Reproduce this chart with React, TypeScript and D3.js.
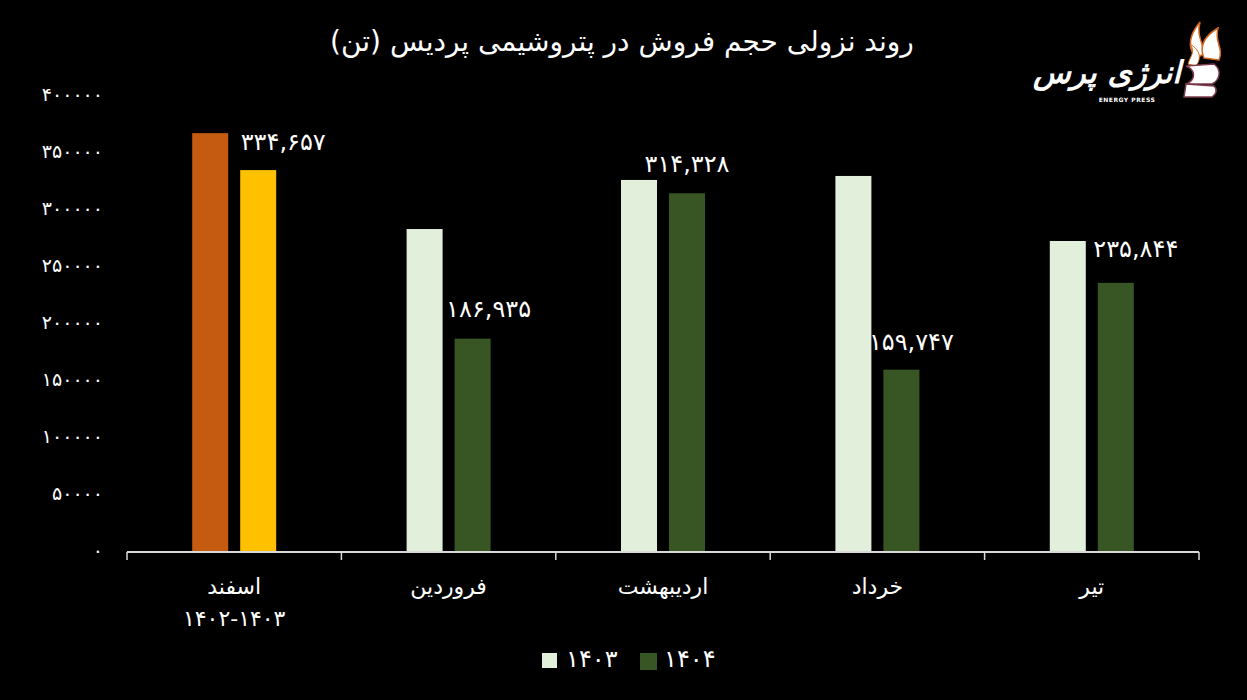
import React from 'react';
import * as d3 from 'd3';

// ---- Data ----
const categories = ['اسفند', 'فروردین', 'اردیبهشت', 'خرداد', 'تیر'];
const categorySubLabels = ['۱۴۰۲-۱۴۰۳', '', '', '', ''];
const seriesNames = ['۱۴۰۳', '۱۴۰۴'];
// first bar of each pair (Esfand shows 1402, the others 1403)
const valuesPrev = [367000, 283000, 326000, 329500, 272500];
// second bar of each pair (Esfand shows 1403, the others 1404)
const valuesCurr = [334657, 186935, 314328, 159747, 235844];
const yTicks = [0, 50000, 100000, 150000, 200000, 250000, 300000, 350000, 400000];
const titleText = 'روند نزولی حجم فروش در پتروشیمی پردیس (تن)';

// label nudges (dx, dy from the bar top centre)
const labelNudgeX = [25, 16, 0, 10, 20];
const labelNudgeY = [-28, -30, -29, -28, -34];

const W = 1247;
const H = 700;
const FONT = "'DejaVu Sans', sans-serif";
const LIGHT = '#E2EFDA';
const DARK = '#375623';
const ORANGE = '#C55A11';
const YELLOW = '#FFC000';
const AXIS = '#D9D9D9';

const fa = (s: string) => s.replace(/\d/g, (d) => '۰۱۲۳۴۵۶۷۸۹'[+d]);

export default function App() {
  const x = d3.scaleBand<string>().domain(categories).range([127, 1199]).padding(0);
  const inner = d3.scaleBand<number>().domain([0, 1]).range([-42, 42]).paddingInner(0.25).paddingOuter(0);
  const y = d3.scaleLinear().domain([0, 400000]).range([552, 95.5]);
  const fmt = d3.format(',');
  const tickXs = [...categories.map((c) => x(c) as number), 1199];

  return (
    <svg width={W} height={H} style={{ position: 'absolute', left: 0, top: 0, background: '#000' }} fontFamily={FONT}>
      <rect x={0} y={0} width={W} height={H} fill="#000" />
      {/* Title */}
      <text x={622} y={41} fill="#fff" fontSize={28} textAnchor="middle" dominantBaseline="central" direction="rtl">
        {titleText}
      </text>

      {/* Logo */}
      <g>
        <text x={1107} y={72} fill="#fff" fontSize={31} fontWeight="bold" textAnchor="middle" dominantBaseline="central" fontStyle="italic">
          انرژی پرس
        </text>
        <text x={1127} y={99} fill="#fff" fontSize={6} fontWeight="bold" textAnchor="middle" dominantBaseline="central" letterSpacing={0.5}>
          ENERGY PRESS
        </text>
        <path d="M1196 58 C1186 46 1190 34 1200 22 C1196 36 1204 44 1204 54 Z" fill="#fff" stroke="#D4671E" strokeWidth={1.5} />
        <path d="M1204 58 C1198 44 1208 34 1218 28 C1214 42 1224 48 1219 60 Z" fill="#fff" stroke="#D4671E" strokeWidth={1.5} />
        <path d="M1188 64 C1190 56 1196 52 1190 44 C1200 50 1202 58 1196 66 Z" fill="#fff" stroke="#D4671E" strokeWidth={1} />
        <path d="M1186 66 L1214 64 C1222 70 1220 80 1212 84 L1186 84 C1196 80 1196 70 1186 66 Z" fill="#fff" stroke="#7a3a4a" strokeWidth={1.5} />
        <path d="M1186 84 L1214 86 C1218 90 1216 94 1212 97 L1184 97 Z" fill="#fff" stroke="#7a3a4a" strokeWidth={1.5} />
      </g>

      {/* Y tick labels */}
      {yTicks.map((t) => (
        <text key={t} x={103} y={y(t) - 2} fill="#fff" fontSize={19} textAnchor="end" dominantBaseline="central">
          {fa(String(t))}
        </text>
      ))}

      {/* Bars */}
      {categories.map((c, i) => {
        const cx = (x(c) as number) + x.bandwidth() / 2;
        const bw = inner.bandwidth();
        const x0 = cx + (inner(0) as number);
        const x1 = cx + (inner(1) as number);
        const c0 = i === 0 ? ORANGE : LIGHT;
        const c1 = i === 0 ? YELLOW : DARK;
        return (
          <g key={c}>
            <rect x={x0} y={y(valuesPrev[i])} width={bw} height={y(0) - y(valuesPrev[i])} fill={c0} />
            <rect x={x1} y={y(valuesCurr[i])} width={bw} height={y(0) - y(valuesCurr[i])} fill={c1} />
            <text
              x={x1 + bw / 2 + labelNudgeX[i]}
              y={y(valuesCurr[i]) + labelNudgeY[i]}
              fill="#fff"
              fontSize={24}
              textAnchor="middle"
              dominantBaseline="central"
            >
              {fa(fmt(valuesCurr[i]))}
            </text>
          </g>
        );
      })}

      {/* X axis */}
      <line x1={127} x2={1199} y1={552} y2={552} stroke={AXIS} strokeWidth={2} />
      {tickXs.map((tx, i) => (
        <line key={i} x1={tx} x2={tx} y1={552} y2={560} stroke={AXIS} strokeWidth={1.5} />
      ))}
      {categories.map((c, i) => {
        const cx = (x(c) as number) + x.bandwidth() / 2;
        return (
          <g key={'l' + c}>
            <text x={cx} y={586} fill="#fff" fontSize={22} textAnchor="middle" dominantBaseline="central" direction="rtl">
              {c}
            </text>
            {categorySubLabels[i] && (
              <text x={cx} y={618} fill="#fff" fontSize={22} textAnchor="middle" dominantBaseline="central">
                {categorySubLabels[i]}
              </text>
            )}
          </g>
        );
      })}

      {/* Legend */}
      <rect x={542} y={653} width={15} height={15} fill={LIGHT} />
      <text x={566} y={659} fill="#fff" fontSize={24} dominantBaseline="central">{seriesNames[0]}</text>
      <rect x={640} y={653} width={17} height={17} fill={DARK} />
      <text x={664} y={659} fill="#fff" fontSize={24} dominantBaseline="central">{seriesNames[1]}</text>
    </svg>
  );
}
